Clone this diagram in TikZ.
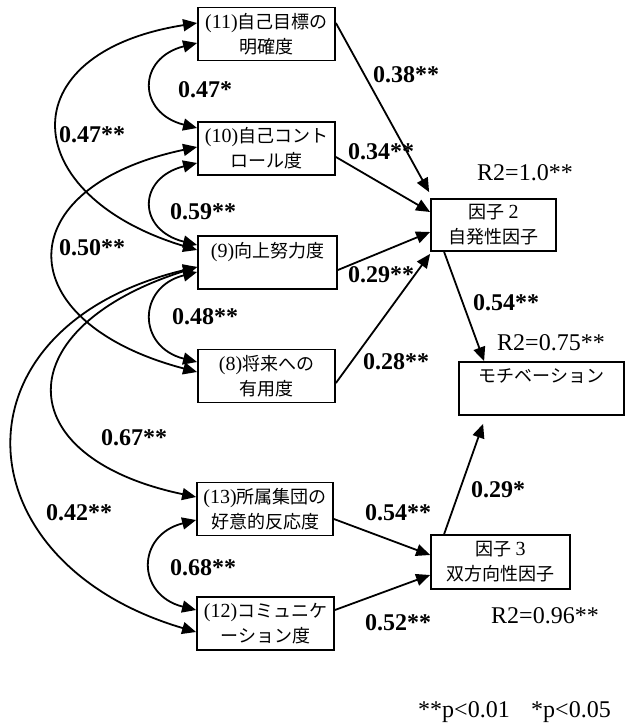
\documentclass[tikz,border=0pt]{standalone}
\usepackage{fontspec}
\setmainfont{Liberation Serif}
\newfontfamily\cjk{Noto Sans CJK JP}
\newcommand{\numtxt}[1]{{\rmfamily\fontsize{20}{25}\selectfont #1}}
\usetikzlibrary{arrows.meta}
\begin{document}
\begin{tikzpicture}[x=1pt,y=-1pt,
  box/.style={draw,line width=1.8pt,minimum width=137pt,minimum height=53pt,inner sep=0pt,align=center,font=\cjk\fontsize{18}{25}\selectfont},
  conn/.style={line width=1.8pt,-{Triangle[length=14pt,width=12pt]}},
  bi/.style={line width=1.8pt,{Triangle[length=14pt,width=12pt]}-{Triangle[length=14pt,width=12pt]}},
  coef/.style={font=\bfseries\fontsize{24}{24}\selectfont,inner sep=0pt},
  rsq/.style={font=\fontsize{24}{24}\selectfont,inner sep=0pt}]
\useasboundingbox (0,0) rectangle (629,727);
% boxes
\node[box] (n11) at (266.5,34) {\numtxt{(11)}自己目標の\\明確度};
\node[box] (n10) at (266.5,148.5) {\numtxt{(10)}自己コント\\ロール度};
\node[box,minimum width=139pt] (n9) at (267.5,262.5) {\numtxt{(9)}向上努力度\\~};
\node[box] (n8) at (266.5,376) {\numtxt{(8)}将来への\\有用度};
\node[box,minimum width=136pt] (n13) at (265,509) {\numtxt{(13)}所属集団の\\好意的反応度};
\node[box] (n12) at (265.5,623.5) {\numtxt{(12)}コミュニケ\\ーション度};
\node[box,minimum width=125pt,minimum height=52pt] (f2) at (493.5,225) {因子 \numtxt{2}\\自発性因子};
\node[box,minimum width=165pt] (mot) at (541.5,388.5) {モチベーション\\~};
\node[box,minimum width=139pt,minimum height=54pt] (f3) at (500.5,562) {因子 \numtxt{3}\\双方向性因子};
% paths to factors
\draw[conn] ([yshift=11pt]n11.east) -- ([shift={(-1pt,6pt)}]f2.north west);
\draw[conn] ([yshift=-8.5pt]n10.east) -- ([yshift=13pt]f2.west);
\draw[conn] ([yshift=-7.5pt]n9.east) -- ([yshift=-7pt]f2.west);
\draw[conn] ([yshift=-7pt]n8.east) -- ([yshift=-2pt]f2.south west);
\draw[conn] ([xshift=14pt]f2.south west) -- ([xshift=26pt]mot.north west);
\draw[conn] ([xshift=14pt]f3.north west) -- ([shift={(25pt,-8pt)}]mot.south west);
\draw[conn] ([yshift=-10pt]n13.east) -- ([yshift=7pt]f3.west);
\draw[conn] ([yshift=13.5pt]n12.east) -- ([yshift=-13pt]f3.west);
% short correlation arcs
\draw[bi] ([yshift=-9pt]n11.west) .. controls +(-60,15) and +(-60,-15) .. ([yshift=20.5pt]n10.west);
\draw[bi] ([yshift=-14.5pt]n10.west) .. controls +(-60,15) and +(-60,-15) .. ([yshift=17.5pt]n9.west);
\draw[bi] ([yshift=-9.5pt]n9.west) .. controls +(-60,15) and +(-60,-15) .. ([yshift=14pt]n8.west);
\draw[bi] ([yshift=-11pt]n13.west) .. controls +(-60,15) and +(-60,-15) .. ([yshift=13.5pt]n12.west);
% long correlation arcs
\draw[bi] ([yshift=11pt]n11.west) .. controls +(-190,30) and +(-180,-54) .. ([yshift=12.5pt]n9.west);
\draw[bi] ([yshift=1.5pt]n10.west) .. controls +(-190,40) and +(-190,-50) .. ([yshift=4pt]n8.west);
\draw[bi] ([yshift=-4.5pt]n9.west) .. controls +(-190,60) and +(-190,-40) .. ([yshift=12pt]n13.west);
\draw[bi] ([yshift=-4.5pt]n9.west) .. controls +(-250,60) and +(-238,-70) .. ([yshift=-8.5pt]n12.west);
% coefficient labels
\node[coef] (c1) at (205,90) {0.47*};
\node[coef] (c2) at (203,212) {0.59**};
\node[coef] (c3) at (205,317) {0.48**};
\node[coef] (c4) at (203,568) {0.68**};
\node[coef] (c5) at (92,135) {0.47**};
\node[coef] (c6) at (92,248) {0.50**};
\node[coef] (c7) at (134,438) {0.67**};
\node[coef] (c8) at (79,513) {0.42**};
\node[coef] (c9) at (406,75) {0.38**};
\node[coef] (c10) at (381,152) {0.34**};
\node[coef] (c11) at (381,275) {0.29**};
\node[coef] (c12) at (396,362) {0.28**};
\node[coef] (c13) at (506,303) {0.54**};
\node[coef] (c14) at (498,490) {0.29*};
\node[coef] (c15) at (398,513) {0.54**};
\node[coef] (c16) at (398,623) {0.52**};
% R2 labels
\node[rsq] (r1) at (525,173) {R2=1.0**};
\node[rsq] (r2) at (551,343) {R2=0.75**};
\node[rsq] (r3) at (545,616) {R2=0.96**};
\node[rsq] (fn1) at (464,712) {**p<0.01};
\node[rsq] (fn2) at (571,712) {*p<0.05};
\end{tikzpicture}
\end{document}
